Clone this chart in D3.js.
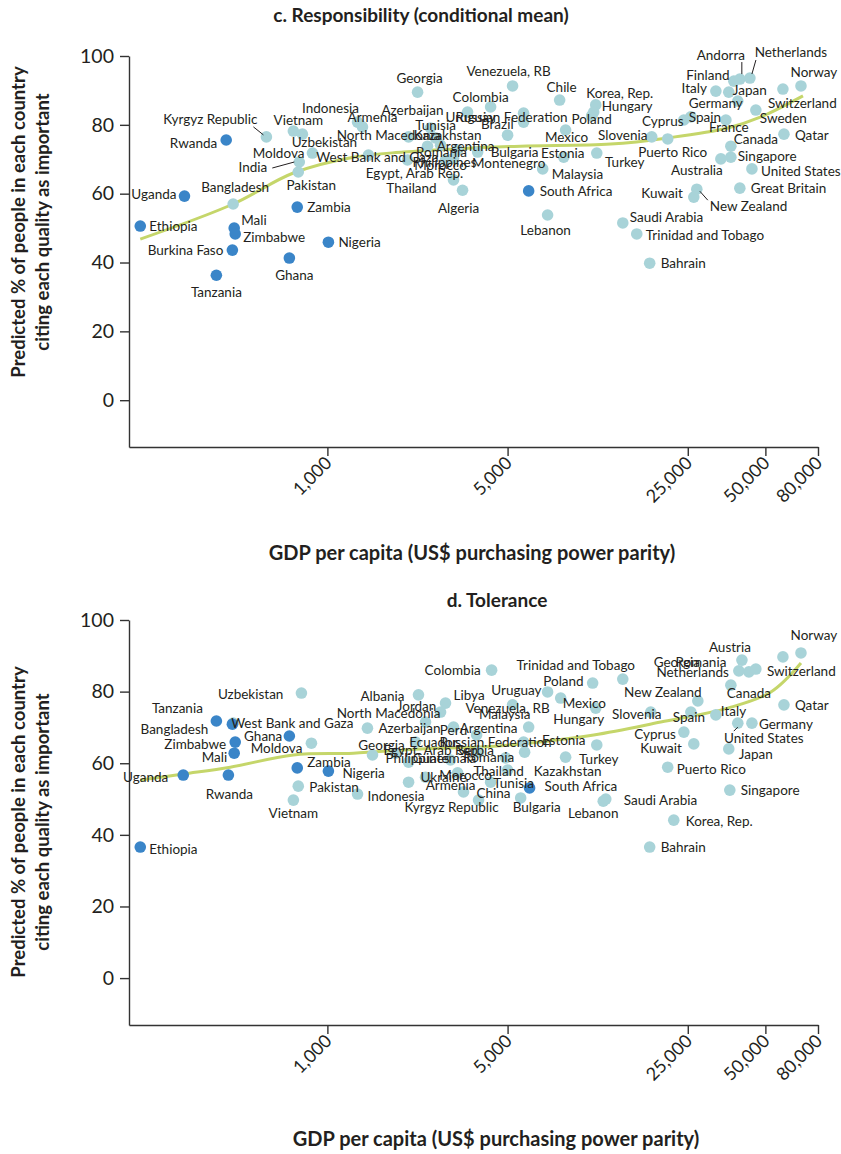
<!DOCTYPE html>
<html>
<head>
<meta charset="utf-8">
<script src="https://cdn.jsdelivr.net/npm/d3@7"></script>
<style>
  body { margin: 0; background: #ffffff; }
  svg { display: block; }
</style>
</head>
<body>
<svg id="chart" width="841" height="1154"></svg>
<script>
// ---------------- DATA ----------------
const xTickValues = [1000, 5000, 25000, 50000, 80000];
const yTickValues = [0, 20, 40, 60, 80, 100];

// Panel c: Responsibility
const namesC = ["Ethiopia","Uganda","Rwanda","Mali","Zimbabwe","Burkina Faso","Tanzania","Zambia","Ghana","Nigeria","South Africa",
  "Kyrgyz Republic","Bangladesh","Vietnam","Uzbekistan","Moldova","West Bank and Gaza","India","Pakistan","Indonesia","Armenia",
  "Georgia","Azerbaijan","North Macedonia","Kazakhstan","Tunisia","Russian Federation","Uruguay","Colombia","Brazil","Venezuela, RB",
  "Chile","Argentina","Romania","Philippines","Morocco","Montenegro","Bulgaria","Egypt, Arab Rep.","Thailand","Algeria",
  "Mexico","Estonia","Malaysia","Lebanon","Korea, Rep.","Hungary","Poland","Turkey","Slovenia","Puerto Rico",
  "Cyprus","Spain","Saudi Arabia","Trinidad and Tobago","Bahrain","Kuwait","New Zealand","Australia","Singapore","Canada",
  "France","Germany","Japan","Italy","Finland","Andorra","Netherlands","Sweden","Switzerland","Norway",
  "Qatar","United States","Great Britain"];
const gdpC = [188,279,405,435,439,428,371,764,712,1009,6036,
  580,431,738,800,875,1443,778,771,1309,1368,
  2238,2512,2065,2748,2627,5768,3497,4297,5768,5228,
  7960,3200,3085,2445,2872,3827,5000,2046,3085,3344,
  8395,8255,6842,7148,10990,10790,10590,11090,18120,20900,
  24140,25700,13990,15850,17790,26380,27100,33600,36730,36730,
  35140,39080,36060,32130,37740,39800,43550,45920,58480,68710,
  59020,44340,39800];
const valueC = [50.6,59.3,75.6,50.0,48.3,43.6,36.3,56.1,41.3,45.9,60.8,
  76.5,57.0,78.2,77.3,71.8,71.2,69.2,66.3,80.8,79.4,
  89.5,79.1,76.5,74.1,76.2,83.4,83.7,85.2,80.8,91.3,
  87.2,72.7,70.3,73.8,69.8,72.1,77.0,69.8,64.0,61.0,
  78.5,70.6,67.2,53.8,85.8,83.7,82.6,71.8,76.5,75.9,
  81.4,82.3,51.5,48.3,39.8,59.0,61.3,70.1,70.6,73.8,
  81.4,86.9,89.5,89.8,92.7,93.3,93.6,84.3,90.4,91.3,
  77.3,67.2,61.6];
// 1 = dark group, 0 = light group
const groupC = [1,1,1,1,1,1,1,1,1,1,1,
  0,0,0,0,0,0,0,0,0,0, 0,0,0,0,0,0,0,0,0,0, 0,0,0,0,0,0,0,0,0,0,
  0,0,0,0,0,0,0,0,0,0, 0,0,0,0,0,0,0,0,0,0, 0,0,0,0,0,0,0,0,0,0, 0,0,0];
const trendGdpC = [188,431,738,1262,1973,3085,5620,12560,20900,35750,48050,69950];
const trendValC = [46.8,57.0,66.0,70.6,72.1,73.0,73.8,74.4,76.2,79.1,82.3,88.4];

// Panel d: Tolerance
const namesD = ["West Bank and Gaza","Ethiopia","Uganda","Tanzania","Zimbabwe","Mali","Rwanda","Ghana","Zambia","Nigeria","South Africa","Bangladesh",
  "Uzbekistan","Moldova","Pakistan","Vietnam","Indonesia","Albania","Jordan","Libya","North Macedonia","Azerbaijan",
  "Colombia","Trinidad and Tobago","Poland","Uruguay","Mexico","Hungary","Venezuela, RB","Malaysia","Argentina","Peru",
  "Ecuador","Russian Federation","Georgia","Egypt, Arab Rep.","Philippines","Guatemala","Serbia","Romania","Estonia","Turkey",
  "Kazakhstan","Thailand","Tunisia","Morocco","Ukraine","Armenia","China","Kyrgyz Republic","Bulgaria","Lebanon",
  "Saudi Arabia","Korea, Rep.","Bahrain","Puerto Rico","Kuwait","Cyprus","Spain","Slovenia","New Zealand","Italy",
  "Canada","Austria","Netherlands","Romania","Georgia","Switzerland","Norway","Qatar","Germany","United States",
  "Japan","Singapore"];
const gdpD = [431,188,276,371,439,435,413,712,764,1009,6085,428,
  793,867,771,738,1309,2256,2748,2872,2403,1430,
  4335,13990,10690,7148,8035,10990,5228,6036,3792,3085,
  2197,5768,1496,1837,2065,3004,3858,4915,5822,11090,
  8395,5000,4297,3200,2403,3373,3858,2065,5620,11750,
  12020,22060,17790,20900,26380,24140,25700,17960,27350,32130,
  36730,40550,39450,43150,45920,58480,68710,59020,44340,39080,
  36060,36390];
const valueD = [71.2,36.6,56.7,71.8,65.9,62.8,56.7,67.6,58.7,57.8,53.1,70.9,
  79.6,65.6,53.6,49.7,51.4,79.1,74.3,76.8,71.5,69.8,
  86.0,83.5,82.4,79.9,78.2,75.4,76.3,70.1,67.9,70.1,
  65.9,65.9,62.3,62.8,60.3,60.9,63.1,61.5,63.1,65.1,
  61.7,58.1,54.7,57.3,56.1,52.0,49.7,54.7,50.3,49.4,
  50.0,44.1,36.6,58.9,65.4,68.7,74.3,74.3,77.4,73.5,
  81.8,88.8,85.8,85.5,86.3,89.7,90.8,76.3,71.2,71.2,
  64.0,52.5];
const groupD = [0,1,1,1,1,1,1,1,1,1,1,1,
  0,0,0,0,0,0,0,0,0,0, 0,0,0,0,0,0,0,0,0,0, 0,0,0,0,0,0,0,0,0,0,
  0,0,0,0,0,0,0,0,0,0, 0,0,0,0,0,0,0,0,0,0, 0,0,0,0,0,0,0,0,0,0, 0,0];
const trendGdpD = [188,276,420,738,1262,2297,3928,5980,10790,19640,35750,52510,68710];
const trendValD = [55.3,57.0,58.9,62.3,62.8,64.0,64.5,65.6,67.9,71.5,75.4,79.9,88.0];

// ---------------- LABEL LAYOUT (pixel offsets from each point) ----------------
const labelLayoutC = [[9,0,"start"],[-8,-2,"end"],[-9,3,"end"],[7,-8,"start"],[8,3,"start"],[-9,0,"end"],[0,17,"middle"],[10,0,"start"],[5,17,"middle"],[10,0,"start"],[11,0,"start"],
  [-56,-18,"middle"],[2,-17,"middle"],[5,-11,"middle"],[22,8,"middle"],[-8,0,"end"],[9,2,"middle"],[-32,5,"end"],[13,13,"middle"],[-27,-14,"middle"],[10,-10,"middle"],
  [2,-14,"middle"],[-18,-18,"middle"],[-20,-2,"middle"],[7,-10,"middle"],[0,-13,"middle"],[-12,4,"middle"],[3,5,"middle"],[-10,-10,"middle"],[-10,2,"end"],[-4,-15,"middle"],
  [2,-13,"middle"],[8,-4,"middle"],[-12,-6,"middle"],[17,16,"middle"],[-5,5,"middle"],[31,11,"middle"],[7,17,"middle"],[7,13,"middle"],[-42,8,"middle"],[-4,18,"middle"],
  [1,7,"middle"],[-1,-4,"middle"],[9,5,"start"],[-2,15,"middle"],[24,-12,"middle"],[8,-6,"start"],[0,3,"middle"],[28,9,"middle"],[-29,-2,"middle"],[5,13,"middle"],
  [-21,1,"middle"],[14,0,"middle"],[7,-6,"start"],[9,1,"start"],[11,0,"start"],[-11,-4,"end"],[13,17,"start"],[-24,11,"middle"],[7,-1,"start"],[3,-7,"start"],
  [3,7,"middle"],[-22,2,"middle"],[4,-2,"start"],[-9,-3,"end"],[-26,-6,"middle"],[-19,-24,"middle"],[41,-26,"middle"],[4,8,"start"],[-15,14,"start"],[13,-14,"middle"],
  [11,1,"start"],[9,2,"start"],[11,0,"start"]];
const leadersC = {"Kyrgyz Republic":[-13,-10,-3,-2],"India":[-27,6,-5,0],"New Zealand":[3,2,11,11],"Andorra":[2,-17,2,-5],"Netherlands":[6,-18,2,-4]};

const labelLayoutD = [[-2,0,"start"],[9,2,"start"],[-15,2,"end"],[-39,-13,"middle"],[-9,2,"end"],[-7,4,"end"],[1,19,"middle"],[-7,0,"end"],[10,-6,"start"],[14,2,"start"],[15,-2,"start"],[-24,5,"end"],
  [-18,1,"end"],[-9,5,"end"],[11,1,"start"],[0,13,"middle"],[10,2,"start"],[-14,1,"end"],[-24,-6,"middle"],[8,-8,"start"],[-37,-9,"middle"],[11,0,"start"],
  [-11,0,"end"],[-47,-14,"middle"],[-9,-2,"end"],[-6,-2,"end"],[2,5,"start"],[-17,11,"middle"],[-5,3,"middle"],[-24,-13,"middle"],[12,-7,"middle"],[0,3,"middle"],
  [18,0,"middle"],[-28,0,"middle"],[9,-10,"middle"],[-12,-3,"start"],[9,-4,"middle"],[-6,-2,"middle"],[-3,-2,"middle"],[-17,-1,"middle"],[39,-12,"middle"],[2,14,"middle"],
  [2,14,"middle"],[-9,1,"middle"],[23,1,"middle"],[8,2,"middle"],[18,0,"middle"],[-13,-7,"middle"],[15,-7,"middle"],[43,25,"middle"],[16,9,"middle"],[-10,12,"middle"],
  [18,1,"start"],[12,1,"start"],[11,0,"start"],[9,2,"start"],[-12,4,"end"],[-8,2,"end"],[-2,5,"middle"],[-14,2,"middle"],[-35,-9,"middle"],[5,-4,"start"],
  [18,8,"middle"],[-12,-13,"middle"],[-10,1,"end"],[-48,-10,"middle"],[-79,-7,"middle"],[-16,14,"start"],[13,-18,"middle"],[11,0,"start"],[7,1,"start"],[26,15,"middle"],
  [10,5,"start"],[11,0,"start"]];
const leadersD = {"United States":[-4,8,0,4]};

// ---------------- DRAWING ----------------
const svg = d3.select("#chart");
const FONT = "Lato, 'Open Sans', sans-serif";
const DARK = "#3a85c8", LIGHT = "#a8d3d8", TREND = "#c5d66a", INK = "#231f20";

function drawPanel(cfg) {
  const x = d3.scaleLog().domain([170, 80000]).range([129, 818]);
  const y = d3.scaleLinear().domain(cfg.yDomain).range(cfg.yRange);
  const g = svg.append("g");

  // axes
  const xAxis = d3.axisBottom(x).tickValues(xTickValues).tickFormat(d3.format(",")).tickSize(9).tickSizeOuter(0);
  const gx = g.append("g").attr("transform", `translate(0,${cfg.yRange[0]})`).call(xAxis);
  gx.select(".domain").attr("stroke", "#333").attr("stroke-width", 1.4);
  gx.selectAll(".tick line").attr("stroke", "#333").attr("stroke-width", 1.4);
  gx.selectAll(".tick text")
    .attr("font-family", FONT).attr("font-size", 18).attr("fill", INK)
    .attr("text-anchor", "end").attr("dy", null).attr("y", 0)
    .attr("transform", "translate(5,17) rotate(-45)");

  const yAxis = d3.axisLeft(y).tickValues(yTickValues).tickSize(9).tickSizeOuter(0).tickPadding(6);
  const gy = g.append("g").attr("transform", `translate(129,0)`).call(yAxis);
  gy.select(".domain").attr("stroke", "#333").attr("stroke-width", 1.4);
  gy.selectAll(".tick line").attr("stroke", "#333").attr("stroke-width", 1.4);
  gy.selectAll(".tick text").attr("font-family", FONT).attr("font-size", 19.5).attr("fill", INK);

  // trend line
  const line = d3.line().x(d => x(d[0])).y(d => y(d[1])).curve(d3.curveCatmullRom.alpha(0.5));
  g.append("path").datum(cfg.trendGdp.map((v, i) => [v, cfg.trendVal[i]]))
    .attr("d", line).attr("fill", "none").attr("stroke", TREND).attr("stroke-width", 3);

  const rows = cfg.names.map((n, i) => ({name: n, gdp: cfg.gdp[i], val: cfg.val[i], grp: cfg.grp[i], lay: cfg.layout[i]}));
  // points: light first, dark on top
  const ordered = rows.filter(r => r.grp === 0).concat(rows.filter(r => r.grp === 1));
  g.selectAll("circle.pt").data(ordered).join("circle").attr("class", "pt")
    .attr("cx", d => x(d.gdp)).attr("cy", d => y(d.val)).attr("r", 5.8)
    .attr("fill", d => d.grp ? DARK : LIGHT);

  // leader lines
  Object.keys(cfg.leaders).forEach(k => {
    const r = rows.find(rr => rr.name === k);
    const L = cfg.leaders[k];
    const px = x(r.gdp), py = y(r.val);
    g.append("line").attr("x1", px + L[0]).attr("y1", py + L[1]).attr("x2", px + L[2]).attr("y2", py + L[3])
      .attr("stroke", INK).attr("stroke-width", 1);
  });

  // labels
  g.selectAll("text.lbl").data(rows).join("text").attr("class", "lbl")
    .attr("x", d => x(d.gdp) + d.lay[0]).attr("y", d => y(d.val) + d.lay[1])
    .attr("dy", "0.35em").attr("text-anchor", d => d.lay[2])
    .attr("font-family", FONT).attr("font-size", 13.5).attr("fill", INK)
    .text(d => d.name);

  // titles
  svg.append("text").attr("x", cfg.titleX).attr("y", cfg.titleY).attr("text-anchor", "middle")
    .attr("font-family", FONT).attr("font-weight", "bold").attr("font-size", 19).attr("fill", INK)
    .text(cfg.title);
  svg.append("text").attr("x", cfg.xTitleX).attr("y", cfg.xTitleY).attr("text-anchor", "middle")
    .attr("font-family", FONT).attr("font-weight", "bold").attr("font-size", 20).attr("fill", INK)
    .text("GDP per capita (US$ purchasing power parity)");
  const yt = svg.append("text").attr("transform", `translate(0,${cfg.yTitleY}) rotate(-90)`)
    .attr("text-anchor", "middle").attr("font-family", FONT).attr("font-weight", "bold")
    .attr("font-size", 18.5).attr("fill", INK);
  yt.append("tspan").attr("x", 0).attr("y", 25).text("Predicted % of people in each country");
  yt.append("tspan").attr("x", 0).attr("y", 49).text("citing each quality as important");
}

drawPanel({
  names: namesC, gdp: gdpC, val: valueC, grp: groupC, layout: labelLayoutC, leaders: leadersC,
  trendGdp: trendGdpC, trendVal: trendValC,
  yDomain: [-13.6, 100], yRange: [447, 56],
  title: "c. Responsibility (conditional mean)", titleX: 421, titleY: 22,
  xTitleX: 472, xTitleY: 560, yTitleY: 222
});
drawPanel({
  names: namesD, gdp: gdpD, val: valueD, grp: groupD, layout: labelLayoutD, leaders: leadersD,
  trendGdp: trendGdpD, trendVal: trendValD,
  yDomain: [-13.1, 100], yRange: [1025, 620],
  title: "d. Tolerance", titleX: 497, titleY: 607,
  xTitleX: 496, xTitleY: 1146, yTitleY: 822
});
</script>
</body>
</html>
